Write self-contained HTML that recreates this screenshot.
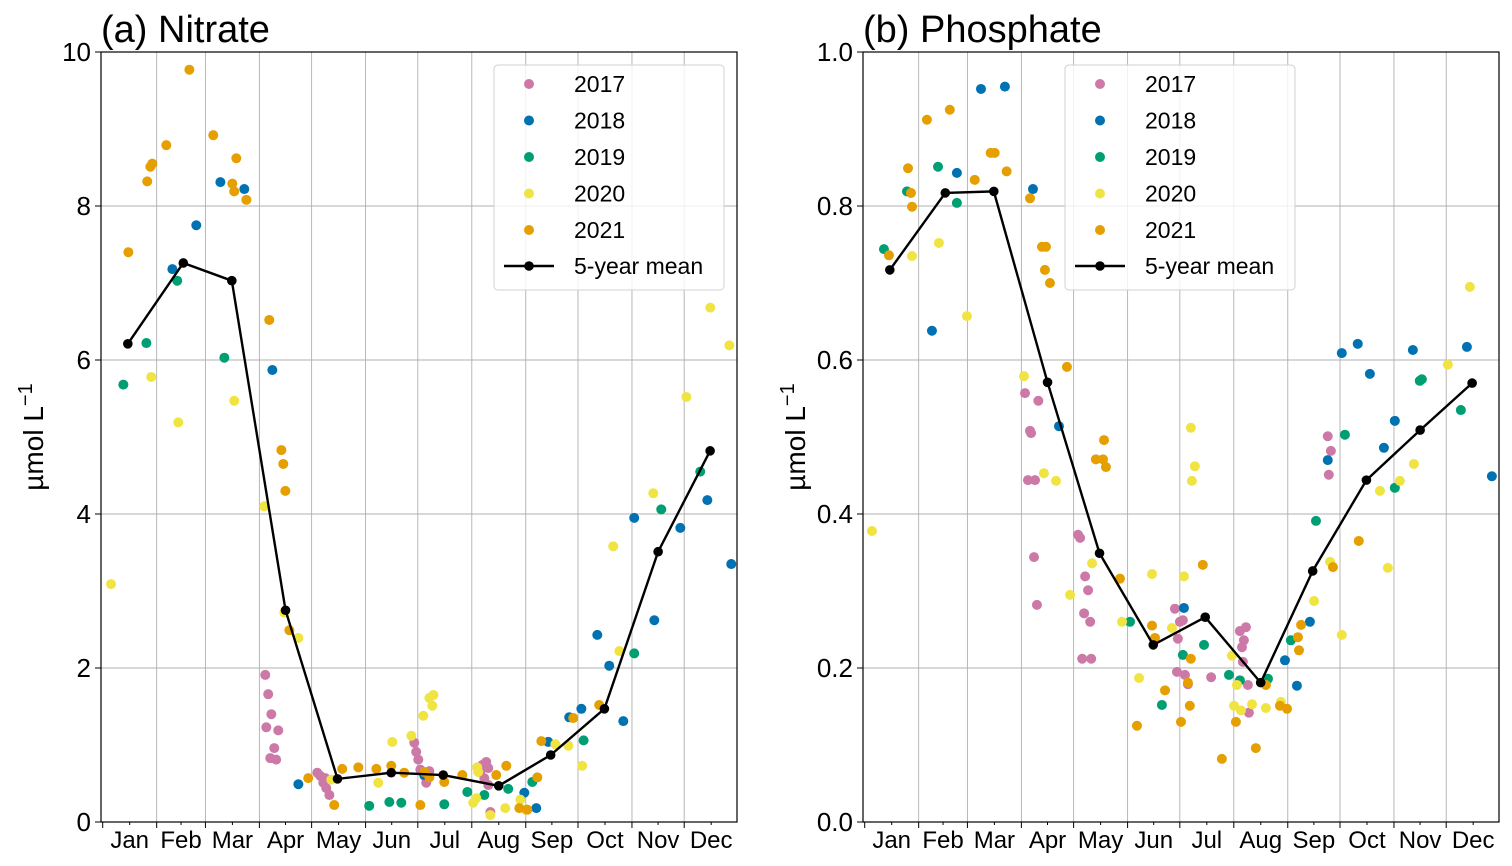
<!DOCTYPE html>
<html><head><meta charset="utf-8">
<style>
html,body{margin:0;padding:0;background:#fff;}
svg{display:block;font-family:"Liberation Sans",Arial,sans-serif;}
</style></head>
<body>
<svg id="chart" width="1512" height="866" viewBox="0 0 1512 866"></svg>
<script>
const months = ["Jan","Feb","Mar","Apr","May","Jun","Jul","Aug","Sep","Oct","Nov","Dec"];
const monthStarts = [0,31,59,90,120,151,181,212,243,273,304,334,365];
const years = ["2017","2018","2019","2020","2021"];
const yearColors = ["#CC79A7","#0072B2","#009E73","#F0E442","#E69F00"];
const meanDays = [13,45,73,104,134,165,195,227,257,288,319,349];
const nitrateMean = [6.21,7.26,7.03,2.75,0.56,0.64,0.61,0.47,0.87,1.47,3.51,4.82];
const phosphateMean = [0.717,0.817,0.819,0.571,0.349,0.230,0.266,0.181,0.326,0.444,0.509,0.570];
const nitrateTicks = [0,2,4,6,8,10];
const phosphateTicks = ["0.0","0.2","0.4","0.6","0.8","1.0"];

const nitrate2017 = [[92.3,1.91],[94,1.66],[95.8,1.40],[92.9,1.23],[97.5,0.96],[95.2,0.83],[98.6,0.81],[99.8,1.19],[122.3,0.64],[124,0.60],[125.8,0.51],[127.5,0.44],[129.3,0.35],[127,0.57],[178.3,1.03],[179.4,0.91],[180.6,0.81],[181.8,0.68],[184.1,0.60],[185.2,0.51],[187,0.66],[217.5,0.74],[219.8,0.78],[221,0.70],[216.4,0.65],[218.7,0.57],[221,0.48],[222.2,0.13]];
const nitrate2018 = [[38.7,7.18],[52.5,7.75],[66.4,8.31],[80.2,8.22],[96.4,5.87],[111.4,0.49],[184,0.61],[241.8,0.38],[248.7,0.18],[255.6,1.04],[267.7,1.36],[274.7,1.47],[283.9,2.43],[290.8,2.03],[298.9,1.31],[305.2,3.95],[316.8,2.62],[331.8,3.82],[347.4,4.18],[361.2,3.35]];
const nitrate2019 = [[10.4,5.68],[23.7,6.22],[41.5,7.03],[68.7,6.03],[152.3,0.21],[163.9,0.26],[170.8,0.25],[195.6,0.23],[208.9,0.39],[218.7,0.35],[232.5,0.43],[246.4,0.52],[276,1.06],[305.2,2.19],[320.8,4.06],[343.3,4.55]];
const nitrate2020 = [[3.3,3.09],[26.5,5.78],[42.1,5.19],[74.4,5.47],[91.7,4.10],[103.3,2.72],[111.4,2.39],[130.4,0.55],[157.5,0.51],[165.6,1.04],[176.6,1.12],[183.5,1.38],[187,1.61],[189.3,1.65],[188.7,1.51],[212.3,0.25],[214.1,0.31],[214.6,0.71],[215.2,0.65],[222.2,0.09],[230.8,0.18],[239.5,0.29],[242.4,0.16],[259.7,1.01],[267.2,0.99],[275.2,0.73],[293.1,3.58],[296.6,2.22],[316.2,4.27],[335.3,5.52],[349.1,6.68],[360.1,6.19]];
const nitrate2021 = [[13.3,7.40],[24.2,8.32],[26,8.51],[27.1,8.55],[35.2,8.79],[48.5,9.77],[62.3,8.92],[73.3,8.29],[74.4,8.19],[75.6,8.62],[81.4,8.08],[94.6,6.52],[101.6,4.83],[102.7,4.65],[103.9,4.30],[106.2,2.49],[117.1,0.57],[132.1,0.22],[136.7,0.69],[146,0.71],[156.4,0.69],[165,0.73],[172.5,0.64],[181.8,0.22],[184.1,0.65],[187,0.58],[195.6,0.52],[206,0.61],[225.6,0.61],[231.4,0.73],[238.9,0.18],[243.5,0.16],[249.3,0.58],[251.6,1.05],[270,1.35],[285,1.52]];

const phosphate2017 = [[91,0.557],[93.9,0.508],[94.5,0.505],[92.7,0.444],[96.8,0.444],[98.7,0.547],[96.2,0.344],[97.9,0.282],[121.6,0.373],[122.8,0.369],[125.7,0.319],[127.4,0.301],[125.1,0.271],[128.6,0.260],[124,0.212],[129.2,0.212],[177.5,0.277],[179.2,0.238],[180.4,0.260],[182.1,0.262],[183.3,0.191],[185,0.179],[178.7,0.195],[215,0.248],[218.5,0.253],[217.3,0.236],[216.2,0.227],[216.7,0.208],[219.6,0.178],[220.2,0.142],[265.7,0.501],[267.5,0.482],[266.3,0.451],[198.4,0.188]];
const phosphate2018 = [[37.3,0.638],[51.7,0.843],[65.6,0.952],[79.4,0.955],[95.6,0.822],[110.6,0.514],[182.7,0.278],[241,0.210],[247.9,0.177],[255.4,0.260],[265.7,0.470],[273.8,0.609],[283,0.621],[290,0.582],[298.1,0.486],[304.4,0.521],[314.8,0.613],[346,0.617],[360.4,0.449]];
const phosphate2019 = [[9.6,0.744],[22.9,0.819],[40.8,0.851],[51.7,0.804],[151.6,0.260],[170,0.152],[182.1,0.217],[194.3,0.230],[208.7,0.191],[215,0.184],[231.2,0.186],[244.4,0.236],[258.9,0.391],[275.6,0.503],[304.4,0.434],[318.8,0.573],[320,0.575],[342.5,0.535]];
const phosphate2020 = [[2.7,0.378],[25.8,0.735],[41.3,0.752],[57.5,0.657],[90.4,0.579],[101.9,0.453],[108.9,0.443],[117,0.295],[129.7,0.336],[147,0.260],[156.8,0.187],[164.3,0.322],[175.8,0.252],[182.7,0.319],[186.7,0.512],[187.3,0.443],[189,0.462],[210.4,0.216],[213.3,0.178],[211.6,0.151],[215.6,0.145],[222,0.153],[230,0.148],[238.7,0.156],[257.8,0.287],[267,0.338],[273.8,0.243],[295.8,0.430],[300.4,0.330],[307.3,0.443],[315.4,0.465],[335,0.594],[347.7,0.695]];
const phosphate2021 = [[12.5,0.736],[23.5,0.849],[25.2,0.817],[25.8,0.799],[34.4,0.912],[47.6,0.925],[62,0.834],[71.2,0.869],[73.5,0.869],[80.4,0.845],[93.9,0.810],[100.8,0.747],[103.1,0.747],[102.5,0.717],[105.4,0.700],[115.2,0.591],[131.9,0.471],[136,0.471],[136.6,0.496],[137.7,0.461],[145.8,0.316],[155.6,0.125],[164.3,0.255],[166,0.239],[171.8,0.171],[181,0.130],[185,0.181],[186.1,0.151],[186.7,0.212],[193.6,0.334],[204.6,0.082],[212.7,0.130],[224.2,0.096],[230,0.178],[238.1,0.151],[242.2,0.147],[248.5,0.240],[249.1,0.223],[250.3,0.256],[268.7,0.331],[283.6,0.365]];

const nitrateSeries = [nitrate2017,nitrate2018,nitrate2019,nitrate2020,nitrate2021];
const phosphateSeries = [phosphate2017,phosphate2018,phosphate2019,phosphate2020,phosphate2021];

const NS="http://www.w3.org/2000/svg";
const svg=document.getElementById('chart');
function mk(tag,attrs,parent){const e=document.createElementNS(NS,tag);for(const k in attrs)e.setAttribute(k,attrs[k]);(parent||svg).appendChild(e);return e;}

function panel(cfg){
  const g=mk('g',{});
  
  
  const L=cfg.left,R=cfg.left+636,T=52,B=822;
  const xs=d=>L+1.7+1.741*d;
  const xd=d=>L+4.3+1.733*d;
  const ys=v=>B-(v/cfg.ymax)*(B-T);
  monthStarts.slice(1,12).forEach(d=>{
    const l=mk('line',{x1:xs(d),x2:xs(d),y1:T,y2:B,stroke:'#b0b0b0','stroke-width':0.9},g);
    
    
  });
  cfg.ticks.forEach(t=>{
    const y=ys(parseFloat(t));
    if(parseFloat(t)>0&&parseFloat(t)<cfg.ymax){
      const l=mk('line',{x1:L,x2:R,y1:y,y2:y,stroke:'#b0b0b0','stroke-width':0.9},g);
      
      
    }
    mk('line',{x1:L-6,x2:L,y1:y,y2:y,stroke:'#000','stroke-width':1},g);
    const tx=mk('text',{x:L-10,y:y+9,'font-size':26,'text-anchor':'end'},g);
    tx.textContent=t;
    
    
  });
  monthStarts.forEach(d=>{ if(xs(d)<=R+1) mk('line',{x1:xs(d),x2:xs(d),y1:B,y2:B+6,stroke:'#000','stroke-width':1},g);});
  months.forEach((m,i)=>{
    const mid=(monthStarts[i]+monthStarts[i+1])/2;
    mk('line',{x1:xs(mid),x2:xs(mid),y1:B,y2:B+3,stroke:'#000','stroke-width':1},g);
    const tx=mk('text',{x:xs(mid),y:B+26,'font-size':24,'text-anchor':'middle'},g);
    tx.textContent=m;
    
    
  });
  cfg.series.forEach((s,i)=>{
    s.forEach(p=>{
      const c=mk('circle',{cx:xd(p[0]),cy:ys(p[1]),r:5,fill:yearColors[i]},g);
      
      
    });
  });
  const pts=meanDays.map((d,i)=>xd(d)+','+ys(cfg.mean[i])).join(' ');
  const pl=mk('polyline',{points:pts,fill:'none',stroke:'#000','stroke-width':2.4},g);
  
  
  meanDays.forEach((d,i)=>{
    const c=mk('circle',{cx:xd(d),cy:ys(cfg.mean[i]),r:4.8,fill:'#000'},g);
    
    
  });
  const fr=mk('rect',{x:L,y:T,width:R-L,height:B-T,fill:'none',stroke:'#000','stroke-width':1.2},g);
  
  
  const ti=mk('text',{x:L,y:42,'font-size':38},g);
  ti.textContent=cfg.title;
  
  
  const yl=mk('text',{x:0,y:0,'font-size':28,'text-anchor':'middle',transform:`translate(${L-58},437) rotate(-90)`},g);
  yl.innerHTML='µmol L<tspan dy="-11" font-size="20">−1</tspan>';
  
  
  const lg=mk('g',{},g);
  
  
  const lx=L+cfg.legendOff;
  mk('rect',{x:lx,y:65,width:230,height:225,rx:4,fill:'rgba(255,255,255,0.8)',stroke:'#d0d0d0','stroke-width':1},lg);
  years.forEach((y,i)=>{
    const cy=84+i*36.5;
    const e=mk('g',{},lg);
    
    
    mk('circle',{cx:lx+35,cy:cy,r:5,fill:yearColors[i]},e);
    const t=mk('text',{x:lx+80,y:cy+8,'font-size':23},e);
    t.textContent=y;
  });
  const e=mk('g',{},lg);
  
  
  mk('line',{x1:lx+10,x2:lx+60,y1:266,y2:266,stroke:'#000','stroke-width':2.4},e);
  mk('circle',{cx:lx+35,cy:266,r:4.8,fill:'#000'},e);
  const t=mk('text',{x:lx+80,y:274,'font-size':23},e);
  t.textContent='5-year mean';
}

panel({name:'nitrate-panel',left:101,ymax:10,ticks:nitrateTicks.map(String),series:nitrateSeries,mean:nitrateMean,title:'(a) Nitrate',legendOff:393});
panel({name:'phosphate-panel',left:863,ymax:1,ticks:phosphateTicks,series:phosphateSeries,mean:phosphateMean,title:'(b) Phosphate',legendOff:202});
</script>
</body></html>
